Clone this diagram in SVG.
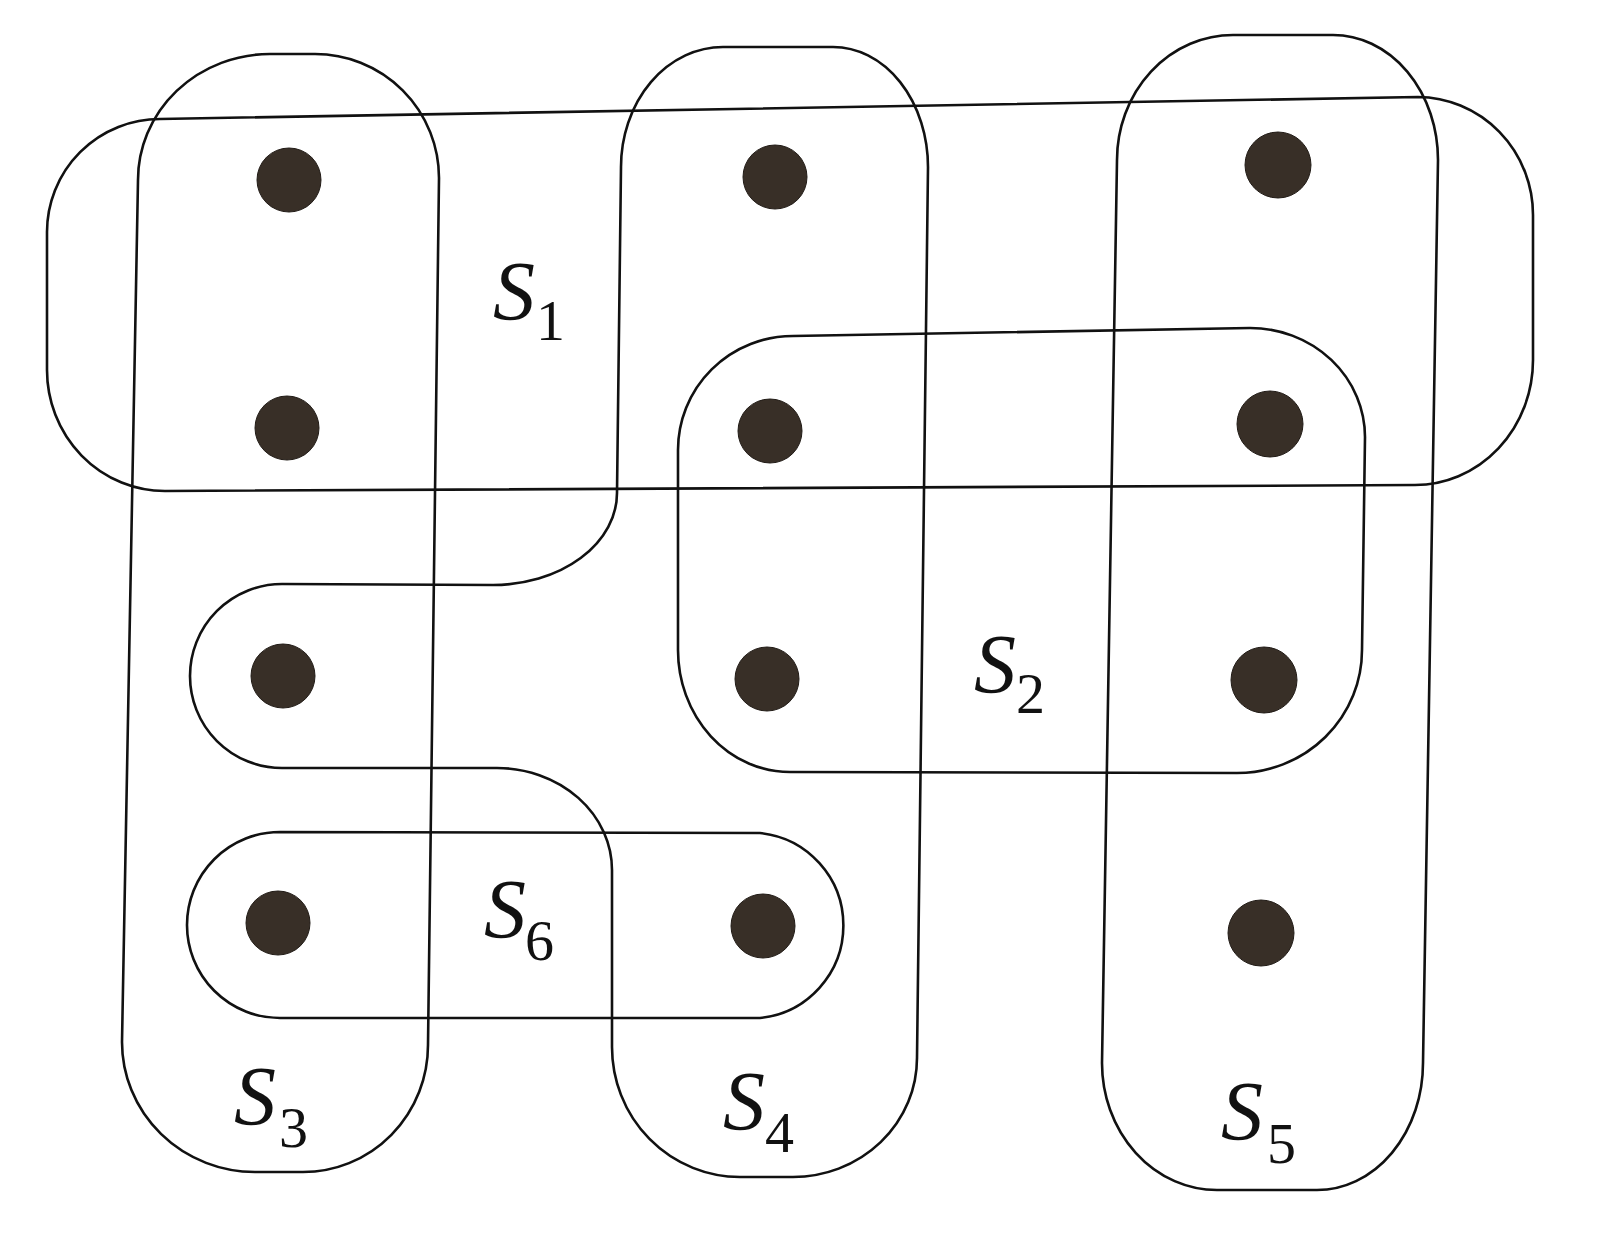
<svg xmlns="http://www.w3.org/2000/svg" width="1599" height="1251" viewBox="0 0 1599 1251">
<style>
.set{fill:none;stroke:#111;stroke-width:2.6;stroke-linejoin:round}
.dot{fill:#382f27;stroke:#221c17;stroke-width:1}
.lbl{font-family:"Liberation Serif","Times New Roman",serif;fill:#111}
.s{font-style:italic;font-size:84px}
.sub{font-size:58px}
</style>
<rect width="1599" height="1251" fill="#ffffff"/>
<g id="S1"><path class="set" d="M160,119 L1418,97 A116 118 0 0 1 1533,215 L1533,360 A118 125 0 0 1 1415,485 L165,491 A118 121 0 0 1 47,370 L47,232 A113 113 0 0 1 160,119 Z"/></g>
<g id="S2"><path class="set" d="M793,336 L1250,328 A115 109 0 0 1 1365,437 L1362,650 A125 123 0 0 1 1237,773 L790,772 A112 122 0 0 1 678,650 L678,450 A115 114 0 0 1 793,336 Z"/></g>
<g id="S3"><path class="set" d="M270,54 L315,54 A124 124 0 0 1 439,178 L428,1045 A125 127 0 0 1 303,1172 L255,1172 A133 130 0 0 1 122,1042 L138,180 A132 126 0 0 1 270,54 Z"/></g>
<g id="S4"><path class="set" d="M723,47 L833,47 A95 120 0 0 1 928,167 L917,1058 A124 119 0 0 1 793,1177 L740,1177 A128 130 0 0 1 612,1047 L612,870 A115 102 0 0 0 497,768 L282,768 A92 92 0 0 1 282,584 L493,585 A124 92 0 0 0 617,493 L621,167 A102 120 0 0 1 723,47 Z"/></g>
<g id="S5"><path class="set" d="M1233,35 L1333,35 A105 125 0 0 1 1438,160 L1423,1063 A106 127 0 0 1 1317,1190 L1217,1190 A115 127 0 0 1 1102,1063 L1117,160 A116 125 0 0 1 1233,35 Z"/></g>
<g id="S6"><path class="set" d="M280,832 L760,833 A93 93 0 0 1 760,1018 L280,1018 A93 93 0 0 1 280,832 Z"/></g>
<g id="elements">
<circle class="dot" cx="289" cy="180" r="32"/>
<circle class="dot" cx="287" cy="428" r="32"/>
<circle class="dot" cx="283" cy="676" r="32"/>
<circle class="dot" cx="278" cy="923" r="32"/>
<circle class="dot" cx="775" cy="177" r="32"/>
<circle class="dot" cx="770" cy="431" r="32"/>
<circle class="dot" cx="767" cy="679" r="32"/>
<circle class="dot" cx="763" cy="926" r="32"/>
<circle class="dot" cx="1278" cy="165" r="33"/>
<circle class="dot" cx="1270" cy="424" r="33"/>
<circle class="dot" cx="1264" cy="680" r="33"/>
<circle class="dot" cx="1261" cy="933" r="33"/>
</g>
<g id="labels">
<text class="lbl"><tspan class="s" x="493" y="320">S</tspan><tspan class="sub" x="536" y="340">1</tspan></text>
<text class="lbl"><tspan class="s" x="974" y="693">S</tspan><tspan class="sub" x="1016" y="713">2</tspan></text>
<text class="lbl"><tspan class="s" x="234" y="1125">S</tspan><tspan class="sub" x="279" y="1147">3</tspan></text>
<text class="lbl"><tspan class="s" x="723" y="1130">S</tspan><tspan class="sub" x="765" y="1152">4</tspan></text>
<text class="lbl"><tspan class="s" x="1221" y="1140">S</tspan><tspan class="sub" x="1267" y="1163">5</tspan></text>
<text class="lbl"><tspan class="s" x="484" y="938">S</tspan><tspan class="sub" x="525" y="960">6</tspan></text>
</g>
</svg>
